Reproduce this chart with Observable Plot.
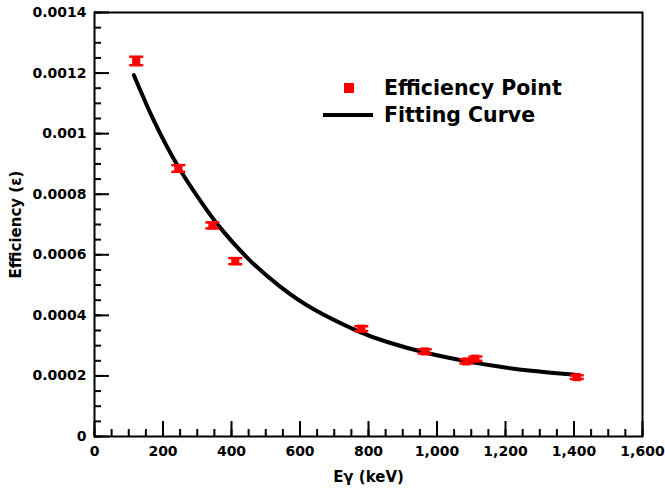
<!DOCTYPE html>
<html><head><meta charset="utf-8">
<script src="https://cdn.jsdelivr.net/npm/d3@7"></script>
<script src="https://cdn.jsdelivr.net/npm/@observablehq/plot@0.6"></script>
<style>
body{margin:0;background:#fff;}
#wrap{position:relative;width:665px;height:488px;font-family:"DejaVu Sans",sans-serif;font-weight:bold;}
.lg-text{position:absolute;font-size:20.5px;line-height:24px;white-space:nowrap;color:#000;}
.lg-sq{position:absolute;width:10px;height:10px;background:#ff0000;}
.lg-line{position:absolute;width:50px;height:4px;background:#000;}
</style></head><body><div id="wrap"></div>
<script>
// Measured efficiency points
const energies = [121.8, 244.7, 344.3, 411.1, 778.9, 964.1, 1085.8, 1112.1, 1408.0];
const efficiency = [0.001240, 0.000885, 0.000697, 0.000579, 0.000356, 0.000281, 0.000248, 0.000257, 0.000196];
const efficiencyErr = [0.000014, 0.000011, 0.000010, 0.000010, 0.000008, 0.000007, 0.000007, 0.000007, 0.000006];
// Fitting curve
const fitEnergy = [115, 173, 245, 310, 368, 455, 543, 640, 767, 855, 962, 1088, 1185, 1283, 1409];
const fitEff = [0.001193, 0.001044, 0.000890, 0.000777, 0.000688, 0.000580, 0.000494, 0.000420, 0.000349, 0.000312, 0.000278, 0.000248, 0.000230, 0.000216, 0.000203];
// Ticks
const xTicks = [0, 200, 400, 600, 800, 1000, 1200, 1400, 1600];
const xTickLabels = ["0", "200", "400", "600", "800", "1,000", "1,200", "1,400", "1,600"];
const xMinorTicks = d3.range(0, 1601, 50);
const yTicks = [0, 0.0002, 0.0004, 0.0006, 0.0008, 0.001, 0.0012, 0.0014];
const yTickLabels = ["0", "0.0002", "0.0004", "0.0006", "0.0008", "0.001", "0.0012", "0.0014"];
const yMinorTicks = d3.range(0, 29).map(i => i * 0.00005);
const xLabel = "Eγ (keV)";
const yLabel = "Efficiency (ε)";
const legendLabels = ["Efficiency Point", "Fitting Curve"];

const W = 665, H = 488, mL = 94, mR = 23, mT = 12, mB = 52;
const iw = W - mL - mR, ih = H - mT - mB;
const red = "#ff0000";
const pts = energies.map((e, i) => ({e, v: efficiency[i], lo: efficiency[i] - efficiencyErr[i], hi: efficiency[i] + efficiencyErr[i]}));
const fit = fitEnergy.map((e, i) => ({e, v: fitEff[i]}));
const capSymbol = {draw(ctx, size) { const w = Math.sqrt(size / Math.PI); ctx.rect(-w, -1.25, 2 * w, 2.5); }};
const font = {fontSize: 14, fontWeight: "bold"};

const chart = Plot.plot({
  width: W, height: H,
  marginLeft: mL, marginRight: mR, marginTop: mT, marginBottom: mB,
  style: {fontFamily: "DejaVu Sans, sans-serif", background: "#fff", color: "#000"},
  x: {domain: [0, 1600]},
  y: {domain: [0, 0.0014]},
  marks: [
    Plot.axisX(xTicks, {tickSize: 0, tickPadding: 10, tickFormat: d => xTickLabels[xTicks.indexOf(d)], label: null, ...font}),
    Plot.axisY(yTicks, {tickSize: 0, tickPadding: 8, tickFormat: d => yTickLabels[yTicks.indexOf(d)], label: null, ...font}),
    Plot.ruleX(xMinorTicks, {x: d => d, insetTop: ih - 7, stroke: "#000", strokeWidth: 2}),
    Plot.ruleX(xTicks, {x: d => d, insetTop: ih - 15, stroke: "#000", strokeWidth: 2}),
    Plot.ruleY(yMinorTicks, {y: d => d, insetRight: iw - 7, stroke: "#000", strokeWidth: 2}),
    Plot.ruleY(yTicks, {y: d => d, insetRight: iw - 15, stroke: "#000", strokeWidth: 2}),
    Plot.frame({stroke: "#000", strokeWidth: 2}),
    Plot.line(fit, {x: "e", y: "v", stroke: "#000", strokeWidth: 4, curve: "natural"}),
    Plot.ruleX(pts, {x: "e", y1: "lo", y2: "hi", stroke: red, strokeWidth: 2}),
    Plot.dot(pts, {x: "e", y: "lo", symbol: capSymbol, r: 7, fill: red, stroke: null}),
    Plot.dot(pts, {x: "e", y: "hi", symbol: capSymbol, r: 7, fill: red, stroke: null}),
    Plot.dot(pts, {x: "e", y: "v", symbol: "square", r: 4.6, fill: red, stroke: null}),
    Plot.text([xLabel], {text: d => d, frameAnchor: "bottom", dy: 41, textAnchor: "middle", lineAnchor: "middle", fontSize: 15, fontWeight: "bold"}),
    Plot.text([yLabel], {text: d => d, frameAnchor: "left", dx: -78, rotate: -90, textAnchor: "middle", lineAnchor: "middle", fontSize: 15, fontWeight: "bold"})
  ]
});
const wrap = document.getElementById("wrap");
wrap.appendChild(chart);

// Legend overlay
const sq = document.createElement("div"); sq.className = "lg-sq"; sq.style.left = "344px"; sq.style.top = "83px"; wrap.appendChild(sq);
const ln = document.createElement("div"); ln.className = "lg-line"; ln.style.left = "323px"; ln.style.top = "113px"; wrap.appendChild(ln);
legendLabels.forEach((t, i) => {
  const d = document.createElement("div"); d.className = "lg-text"; d.textContent = t;
  d.style.left = "384px"; d.style.top = (i === 0 ? 76 : 103) + "px"; wrap.appendChild(d);
});
</script></body></html>
